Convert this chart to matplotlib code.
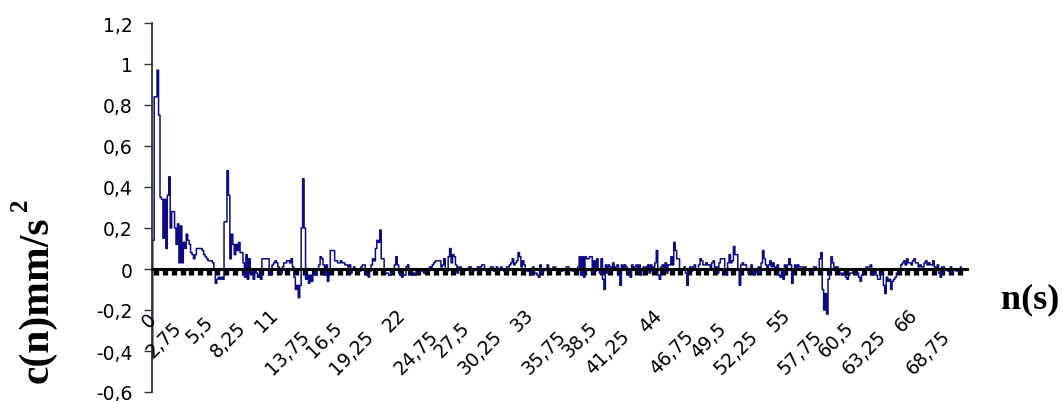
import numpy as np
import matplotlib
matplotlib.use("Agg")
import matplotlib.pyplot as plt

# autocorrelation c(n), one sample every 0.125 s
dt = 0.125

part1 = [-0.44, 0.14, 0.84, 0.84, 0.97, 0.75, 0.35, 0.34, 0.15, 0.34, 0.10, 0.36, 0.45, 0.20, 0.28, 0.28, 0.20, 0.12, 0.22, 0.03, 0.21, 0.03,
         0.13, 0.10, 0.17, 0.14, 0.12, 0.08, 0.07, 0.05, 0.07, 0.10, 0.10, 0.10, 0.10, 0.09, 0.07, 0.06, 0.05, 0.04, 0.04, 0.04, 0.03, 0.00, -0.07,
         -0.05, -0.04, -0.05, -0.04, -0.05, 0.23, 0.23, 0.48, 0.36, 0.05, 0.17, 0.12, 0.07, 0.12, 0.09, 0.13, 0.08, 0.08, 0.03, -0.04, 0.07, -0.05, 0.05,
         -0.02, 0.00, -0.05, 0.00, -0.02, -0.04, -0.03, -0.05, 0.05, 0.05, 0.05, 0.05, 0.05, -0.03, 0.00, 0.02, 0.03, 0.04, 0.03, 0.01, -0.01, -0.02]

part2 = [0.01, 0.03, 0.03, 0.04, 0.04, 0.03, 0.05, 0.01, -0.04, -0.10, -0.08, -0.14, -0.08, 0.20, 0.44, 0.20, -0.05, -0.03, -0.07, -0.03, -0.06, -0.02, 0.00,
         -0.03, 0.00, 0.02, 0.06, 0.05, 0.02, -0.03, 0.02, -0.06, 0.00, 0.09, 0.09, 0.09, 0.04, 0.04, 0.03, 0.03, 0.04, 0.03, 0.03, 0.02, 0.02,
         0.01, 0.02, -0.02, 0.00, 0.01, 0.00, 0.00, -0.01, -0.01, 0.01, 0.02, 0.02, -0.02, -0.03, -0.04, -0.01, 0.02, 0.05, 0.04, 0.10, 0.14, 0.13, 0.19,
         0.05, 0.05, 0.00, -0.02, -0.02, -0.03, -0.03, -0.02, -0.01, 0.02, 0.06, 0.02, -0.02, -0.03, -0.04, -0.03, -0.03, 0.01, 0.02, 0.00, -0.03, -0.03]

part3 = [-0.02, -0.03, -0.01, 0.00, 0.00, 0.00, -0.01, -0.02, -0.01, 0.00, 0.00, 0.01, 0.00, 0.02, 0.03, 0.04, 0.04, 0.04, 0.04, 0.01, 0.02, 0.05,
         0.00, -0.01, 0.06, 0.10, 0.03, 0.07, 0.06, 0.02, -0.02, 0.01, 0.01, -0.01, 0.00, 0.00, 0.00, 0.00, 0.01, 0.01, -0.01, -0.01, 0.00, 0.00, 0.01,
         0.00, 0.01, 0.02, 0.02, 0.00, -0.01, -0.01, 0.00, 0.01, 0.01, -0.01, -0.01, 0.01, 0.00, 0.00, 0.01, 0.00, -0.01, -0.01, 0.01, 0.01, 0.02,
         0.03, 0.05, 0.02, 0.03, 0.04, 0.08, 0.06, 0.01, 0.04, 0.02, 0.00, -0.01, -0.01, -0.03, -0.01, 0.01, -0.02, -0.02, -0.03, -0.04, 0.02, -0.02, -0.01]

part4 = [0.00, 0.00, 0.02, -0.01, 0.00, 0.00, 0.01, 0.01, 0.00, 0.00, 0.00, -0.01, -0.01, 0.00, 0.00, 0.01, 0.01, 0.00, 0.00, -0.01, -0.01, 0.00,
         0.00, 0.01, 0.06, -0.03, 0.06, -0.04, 0.06, 0.05, 0.05, 0.06, 0.06, -0.02, 0.04, -0.01, 0.05, 0.00, -0.02, 0.05, -0.05, -0.10, 0.02, -0.02, 0.02,
         0.01, -0.01, 0.03, 0.00, 0.01, 0.02, -0.03, -0.08, 0.02, 0.00, 0.02, 0.01, -0.02, -0.03, -0.04, 0.02, 0.00, 0.01, 0.02, -0.01, 0.02, -0.03,
         0.00, 0.01, 0.01, 0.00, 0.02, -0.02, 0.02, -0.01, 0.01, 0.03, 0.09, -0.03, -0.05, 0.01, 0.02, -0.01, 0.03, -0.02, 0.02, 0.02, 0.06, 0.02]

part5 = [0.13, 0.09, 0.05, 0.05, -0.01, 0.00, 0.00, 0.01, -0.02, -0.08, 0.00, 0.01, -0.01, 0.01, 0.02, 0.00, -0.01, 0.02, 0.05, 0.04, 0.02, 0.02, 0.03,
         0.02, 0.02, 0.00, 0.03, 0.04, 0.00, 0.01, -0.02, 0.03, 0.05, 0.05, 0.05, 0.00, -0.03, 0.03, 0.07, 0.03, 0.04, 0.11, 0.07, 0.07, 0.00,
         -0.08, 0.02, 0.03, 0.02, 0.02, 0.00, -0.02, 0.00, 0.02, -0.01, -0.03, 0.00, -0.02, 0.01, -0.02, 0.03, 0.09, 0.05, 0.02, -0.01, 0.02, 0.04, 0.01,
         0.03, 0.01, 0.00, 0.02, -0.03, -0.04, 0.00, -0.05, 0.02, -0.01, 0.02, 0.05, 0.02, -0.07, -0.02, 0.02, 0.00, 0.02, 0.01, 0.01, 0.01, 0.00]

part6 = [0.01, 0.00, 0.00, -0.01, -0.02, -0.01, 0.01, 0.01, 0.00, 0.00, 0.05, 0.08, -0.10, -0.20, -0.12, -0.22, -0.05, 0.00, 0.06, 0.03, 0.01, -0.01,
         0.01, 0.00, -0.02, -0.03, -0.02, -0.03, -0.04, -0.05, -0.03, -0.02, -0.02, -0.01, -0.01, -0.02, -0.02, -0.04, -0.06, -0.03, 0.00, 0.00, 0.01, 0.01,
         0.01, 0.02, -0.03, -0.02, -0.01, -0.03, -0.05, -0.05, -0.02, -0.02, -0.08, -0.12, -0.04, -0.06, -0.05, -0.10, -0.06, -0.05, -0.04, -0.02, -0.01, 0.00, 0.02]

part7 = [0.03, 0.04, 0.02, 0.05, 0.03, 0.03, 0.02, 0.04, 0.05, 0.03, 0.03, 0.01, 0.02, 0.01, 0.01, 0.03, 0.04, 0.02, 0.03, 0.02, 0.02, 0.04,
         0.01, 0.00, 0.02, -0.02, -0.04, 0.01, 0.01, 0.00, 0.00, -0.01, -0.01, 0.01, -0.02, 0.00, 0.00, -0.01, -0.01, 0.00, 0.01]

x_ticks = [0, 2.75, 5.5, 8.25, 11, 13.75, 16.5, 19.25, 22, 24.75, 27.5, 30.25, 33,
           35.75, 38.5, 41.25, 44, 46.75, 49.5, 52.25, 55, 57.75, 60.5, 63.25, 66, 68.75]
x_labels = ["0", "2,75", "5,5", "8,25", "11", "13,75", "16,5", "19,25", "22", "24,75", "27,5", "30,25", "33",
            "35,75", "38,5", "41,25", "44", "46,75", "49,5", "52,25", "55", "57,75", "60,5", "63,25", "66", "68,75"]
y_ticks = [-0.6, -0.4, -0.2, 0, 0.2, 0.4, 0.6, 0.8, 1, 1.2]
y_labels = ["-0,6", "-0,4", "-0,2", "0", "0,2", "0,4", "0,6", "0,8", "1", "1,2"]

c = np.array(part1 + part2 + part3 + part4 + part5 + part6 + part7)
n = np.arange(len(c)) * dt

W, H = 1063, 402
fig = plt.figure(figsize=(W / 100, H / 100), dpi=100)
ax = fig.add_axes([152 / W, 9 / H, 815 / W, 369 / H])

ax.plot(n, c, color="#0b0b85", lw=1.1, drawstyle="steps-mid")
ax.set_xlim(0, 70)
ax.set_ylim(-0.6, 1.2)

for side in ("top", "right"):
    ax.spines[side].set_visible(False)
ax.spines["bottom"].set_position(("data", 0))
ax.spines["bottom"].set_linewidth(2.2)
ax.spines["left"].set_color("#333333")
ax.spines["left"].set_linewidth(1.3)

ax.set_yticks(y_ticks)
ax.set_yticklabels(y_labels, fontsize=13.5, family="DejaVu Sans")
ax.tick_params(axis="y", direction="out", length=6, width=1, pad=8, color="#333333")

# dense marks hanging under the zero line
ax.set_xticks(np.arange(0.375, 70, 0.75))
ax.set_xticklabels([])
ax.tick_params(axis="x", direction="out", length=4.5, width=3.8, color="black")

# category labels, the longer ones sit a bit lower (offsets in pixels)
shift = {1: (-5, 40), 2: (-12, 36), 3: (-12, 43), 4: (-12, 49), 5: (-12, 57)}
for pos, lab in zip(x_ticks, x_labels):
    dx, dy = shift[len(lab)]
    ax.annotate(lab, xy=(pos, 0), xycoords="data",
                xytext=(dx * 0.72, -dy * 0.72), textcoords="offset points",
                rotation=45, rotation_mode="anchor", ha="right", va="top",
                fontsize=13.5, family="DejaVu Sans", annotation_clip=False)

serif = "Liberation Serif"
fig.text(37 / W, 1 - 300 / H, "c(n)mm/s", rotation=90, fontsize=30, fontweight="bold",
         family=serif, ha="center", va="center")
fig.text(21 / W, 1 - 205 / H, "2", rotation=90, fontsize=18, fontweight="bold",
         family=serif, ha="center", va="center")
fig.text(1030 / W, 1 - 300 / H, "n(s)", fontsize=26, fontweight="bold",
         family=serif, ha="center", va="center")

fig.savefig("out.png", dpi=100)
